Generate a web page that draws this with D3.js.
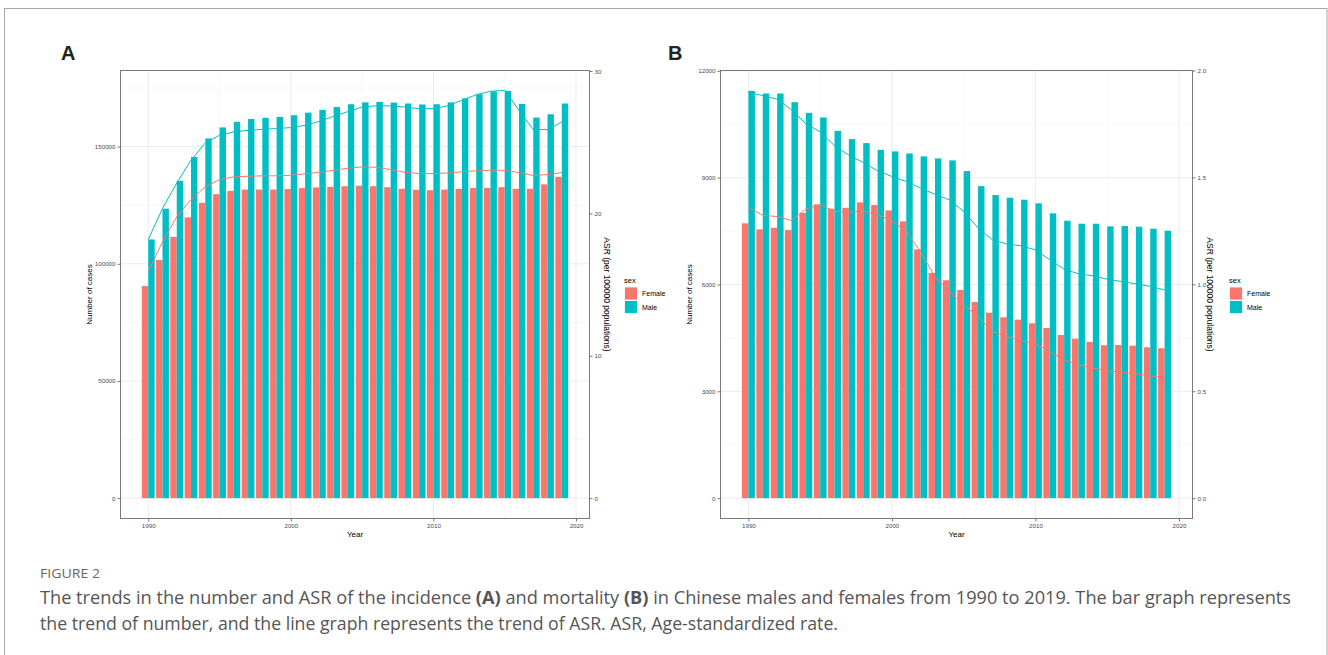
<!DOCTYPE html>
<html>
<head>
<meta charset="utf-8">
<script src="https://cdn.jsdelivr.net/npm/d3@7"></script>
<style>
  html, body { margin: 0; padding: 0; background: #fff; }
  svg { display: block; }
</style>
</head>
<body>
<svg id="chart" width="1328" height="655"></svg>
<script>
// ---------------- DATA ----------------
const years = [1990,1991,1992,1993,1994,1995,1996,1997,1998,1999,2000,2001,2002,2003,2004,
               2005,2006,2007,2008,2009,2010,2011,2012,2013,2014,2015,2016,2017,2018,2019];
const sexes = ["Female", "Male"];

// Panel A: incidence
const incFemaleCases = [90500,101600,111500,119800,126000,129700,131100,131700,131700,131700,
                        131900,132300,132600,132800,133100,133300,133100,132700,132000,131600,
                        131400,131700,132000,132300,132400,132700,132000,132000,133900,137100];
const incMaleCases   = [110400,123500,135400,145600,153500,158200,160600,161800,162300,162700,
                        163400,164500,165700,166900,168100,168900,169100,168800,168400,168000,
                        168100,168900,170600,172400,173600,173800,168200,162400,163800,168400];
const incFemaleASR   = [15.90,18.00,19.76,20.98,21.86,22.38,22.57,22.61,22.64,22.64,
                        22.68,22.78,22.89,23.03,23.17,23.27,23.24,23.08,22.89,22.80,
                        22.80,22.84,22.92,22.99,23.03,23.03,22.87,22.66,22.73,22.87];
const incMaleASR     = [18.17,20.35,22.14,23.74,24.95,25.49,25.72,25.84,25.91,25.96,
                        26.03,26.19,26.47,26.82,27.15,27.47,27.57,27.55,27.47,27.36,
                        27.36,27.57,27.94,28.34,28.58,28.65,27.24,25.89,25.89,26.42];

// Panel B: mortality
const mortFemaleCases = [7717,7548,7593,7529,8014,8250,8126,8154,8306,8230,
                         8081,7773,6987,6322,6117,5845,5508,5208,5079,5012,
                         4911,4779,4582,4478,4386,4293,4300,4282,4237,4209];
const mortMaleCases   = [11437,11364,11364,11120,10820,10691,10315,10082,9970,9782,
                         9737,9681,9597,9540,9484,9184,8763,8511,8436,8380,
                         8278,7997,7790,7706,7706,7632,7641,7622,7566,7510];
const mortFemaleASR   = [1.361,1.322,1.317,1.298,1.352,1.372,1.341,1.338,1.341,1.325,
                         1.298,1.247,1.153,1.034,0.966,0.904,0.849,0.779,0.756,0.737,
                         0.722,0.686,0.647,0.623,0.608,0.595,0.589,0.581,0.572,0.564];
const mortMaleASR     = [1.899,1.882,1.866,1.816,1.751,1.713,1.648,1.604,1.570,1.531,
                         1.504,1.481,1.450,1.421,1.395,1.341,1.263,1.208,1.189,1.180,
                         1.161,1.115,1.071,1.049,1.040,1.024,1.013,1.002,0.990,0.974];

// Tick labels
const yearTicks = [1990, 2000, 2010, 2020];
const yearMinor = [1995, 2005, 2015];
const incLeftTicks  = [0, 50000, 100000, 150000];
const incLeftMinor  = [25000, 75000, 125000, 175000];
const incRightTicks = [0, 10, 20, 30];
const mortLeftTicks  = [0, 3000, 6000, 9000, 12000];
const mortLeftMinor  = [1500, 4500, 7500, 10500];
const mortRightTicks = [0, 0.5, 1.0, 1.5, 2.0];

// secondary-axis transform (cases per ASR unit)
const incSecFactor = 6075;
const mortSecFactor = 6005;

// ---------------- DRAWING ----------------
const colors = {Female: "#F8766D", Male: "#00BFC4"};
const FONT = "'Liberation Sans', Arial, Helvetica, sans-serif";
const svg = d3.select("#chart");

svg.append("rect").attr("x", 0).attr("y", 0).attr("width", 1328).attr("height", 655).attr("fill", "#fff");
svg.append("rect").attr("x", 4.5).attr("y", 8.5).attr("width", 1322.5).attr("height", 700)
   .attr("fill", "none").attr("stroke", "#a8a8a8").attr("stroke-width", 1);

function panel(cfg) {
  const {left, right, top, bottom} = cfg;
  const g = svg.append("g");
  const maxCases = d3.max(cfg.female.concat(cfg.male));
  const yL = d3.scaleLinear().domain([-0.05 * maxCases, 1.05 * maxCases]).range([bottom, top]);
  const yR = d3.scaleLinear().domain(yL.domain().map(v => v / cfg.secFactor)).range([bottom, top]);
  const x = d3.scaleLinear().domain([years[0] - 0.45 - 1.495, years[years.length-1] + 0.45 + 1.495]).range([left, right]);

  // grid
  const grid = g.append("g");
  cfg.leftMinor.forEach(v => grid.append("line").attr("x1", left).attr("x2", right)
      .attr("y1", yL(v)).attr("y2", yL(v)).attr("stroke", "#F2F2F2").attr("stroke-width", 0.6));
  yearMinor.forEach(v => grid.append("line").attr("y1", top).attr("y2", bottom)
      .attr("x1", x(v)).attr("x2", x(v)).attr("stroke", "#F2F2F2").attr("stroke-width", 0.6));
  cfg.leftTicks.forEach(v => grid.append("line").attr("x1", left).attr("x2", right)
      .attr("y1", yL(v)).attr("y2", yL(v)).attr("stroke", "#EBEBEB").attr("stroke-width", 1));
  yearTicks.forEach(v => grid.append("line").attr("y1", top).attr("y2", bottom)
      .attr("x1", x(v)).attr("x2", x(v)).attr("stroke", "#EBEBEB").attr("stroke-width", 1));

  // bars (dodged, width 0.9)
  const bw = 0.45;
  const rows = [];
  years.forEach((yr, i) => {
    rows.push({year: yr, sex: "Female", v: cfg.female[i]});
    rows.push({year: yr, sex: "Male", v: cfg.male[i]});
  });
  g.append("g").selectAll("rect").data(rows).join("rect")
    .attr("x", d => x(d.sex === "Female" ? d.year - bw : d.year))
    .attr("width", d => x(d.year + bw) - x(d.year))
    .attr("y", d => yL(d.v))
    .attr("height", d => yL(0) - yL(d.v))
    .attr("fill", d => colors[d.sex]);

  // ASR lines
  const line = d3.line().x((d, i) => x(years[i])).y(d => yR(d));
  g.append("path").datum(cfg.femaleASR).attr("d", line).attr("fill", "none")
    .attr("stroke", colors.Female).attr("stroke-width", 1);
  g.append("path").datum(cfg.maleASR).attr("d", line).attr("fill", "none")
    .attr("stroke", colors.Male).attr("stroke-width", 1);

  // border
  g.append("rect").attr("x", left).attr("y", top).attr("width", right - left).attr("height", bottom - top)
    .attr("fill", "none").attr("stroke", "#7a7a7a").attr("stroke-width", 1);

  // axes
  const styleAxis = sel => {
    sel.select(".domain").remove();
    sel.selectAll(".tick line").attr("stroke", "#555").attr("stroke-width", 0.8);
    sel.selectAll(".tick text").attr("fill", "#4D4D4D").style("font-family", FONT).style("font-size", "6.2px");
  };
  g.append("g").attr("transform", `translate(${left},0)`)
    .call(d3.axisLeft(yL).tickValues(cfg.leftTicks).tickFormat(d3.format("d")).tickSize(3).tickPadding(2))
    .call(styleAxis);
  g.append("g").attr("transform", `translate(${right},0)`)
    .call(d3.axisRight(yR).tickValues(cfg.rightTicks).tickFormat(cfg.rightFormat).tickSize(3).tickPadding(2))
    .call(styleAxis);
  g.append("g").attr("transform", `translate(0,${bottom})`)
    .call(d3.axisBottom(x).tickValues(yearTicks).tickFormat(d3.format("d")).tickSize(3).tickPadding(2))
    .call(styleAxis);

  // axis titles
  g.append("text").attr("x", (left + right) / 2).attr("y", 537).attr("text-anchor", "middle")
    .style("font-family", FONT).style("font-size", "8px").attr("fill", "#000").text("Year");
  g.append("text").attr("transform", `translate(${left - 29},${(top + bottom) / 2}) rotate(-90)`)
    .attr("text-anchor", "middle").style("font-family", FONT).style("font-size", "8px")
    .attr("fill", "#000").text("Number of cases");
  g.append("text").attr("transform", `translate(${right + 14},${(top + bottom) / 2}) rotate(90)`)
    .attr("text-anchor", "middle").style("font-family", FONT).style("font-size", "8.5px")
    .attr("fill", "#000").text("ASR (per 100000 populations)");

  // legend
  const lg = g.append("g").attr("transform", `translate(${cfg.legendX},0)`);
  lg.append("text").attr("x", 0).attr("y", 283).style("font-family", FONT).style("font-size", "7.5px")
    .attr("fill", "#000").text("sex");
  sexes.forEach((s, i) => {
    lg.append("rect").attr("x", 0.5).attr("y", 287 + i * 13.5).attr("width", 13).attr("height", 13)
      .attr("fill", colors[s]).attr("stroke", "#fff").attr("stroke-width", 0.8);
    lg.append("text").attr("x", 18).attr("y", 296 + i * 13.5).style("font-family", FONT)
      .style("font-size", "7px").attr("fill", "#000").text(s);
  });

  // panel letter
  svg.append("text").attr("x", cfg.letterX).attr("y", 60).style("font-family", FONT)
    .style("font-size", "20px").style("font-weight", "bold").attr("fill", "#222").text(cfg.letter);
}

panel({left: 120.5, right: 589.5, top: 70.5, bottom: 518.5,
       female: incFemaleCases, male: incMaleCases, femaleASR: incFemaleASR, maleASR: incMaleASR,
       leftTicks: incLeftTicks, leftMinor: incLeftMinor, rightTicks: incRightTicks,
       rightFormat: d3.format("d"), secFactor: incSecFactor,
       legendX: 624, letter: "A", letterX: 61});

panel({left: 720.5, right: 1192.5, top: 70.5, bottom: 518.5,
       female: mortFemaleCases, male: mortMaleCases, femaleASR: mortFemaleASR, maleASR: mortMaleASR,
       leftTicks: mortLeftTicks, leftMinor: mortLeftMinor, rightTicks: mortRightTicks,
       rightFormat: d3.format(".1f"), secFactor: mortSecFactor,
       legendX: 1229, letter: "B", letterX: 668});

// caption
const CAP = "'Open Sans', 'Noto Sans', sans-serif";
svg.append("text").attr("x", 40).attr("y", 578).style("font-family", CAP).style("font-size", "13px")
  .attr("fill", "#666").attr("textLength", 60).attr("lengthAdjust", "spacingAndGlyphs").text("FIGURE 2");
const l1 = svg.append("text").attr("x", 40).attr("y", 604).style("font-family", CAP)
  .style("font-size", "17.5px").attr("fill", "#555")
  .attr("textLength", 1251).attr("lengthAdjust", "spacingAndGlyphs");
l1.append("tspan").text("The trends in the number and ASR of the incidence ");
l1.append("tspan").style("font-weight", "bold").text("(A)");
l1.append("tspan").text(" and mortality ");
l1.append("tspan").style("font-weight", "bold").text("(B)");
l1.append("tspan").text(" in Chinese males and females from 1990 to 2019. The bar graph represents");
svg.append("text").attr("x", 40).attr("y", 630).style("font-family", CAP).style("font-size", "17.5px")
  .attr("fill", "#555").attr("textLength", 798).attr("lengthAdjust", "spacingAndGlyphs")
  .text("the trend of number, and the line graph represents the trend of ASR. ASR, Age-standardized rate.");
</script>
</body>
</html>
